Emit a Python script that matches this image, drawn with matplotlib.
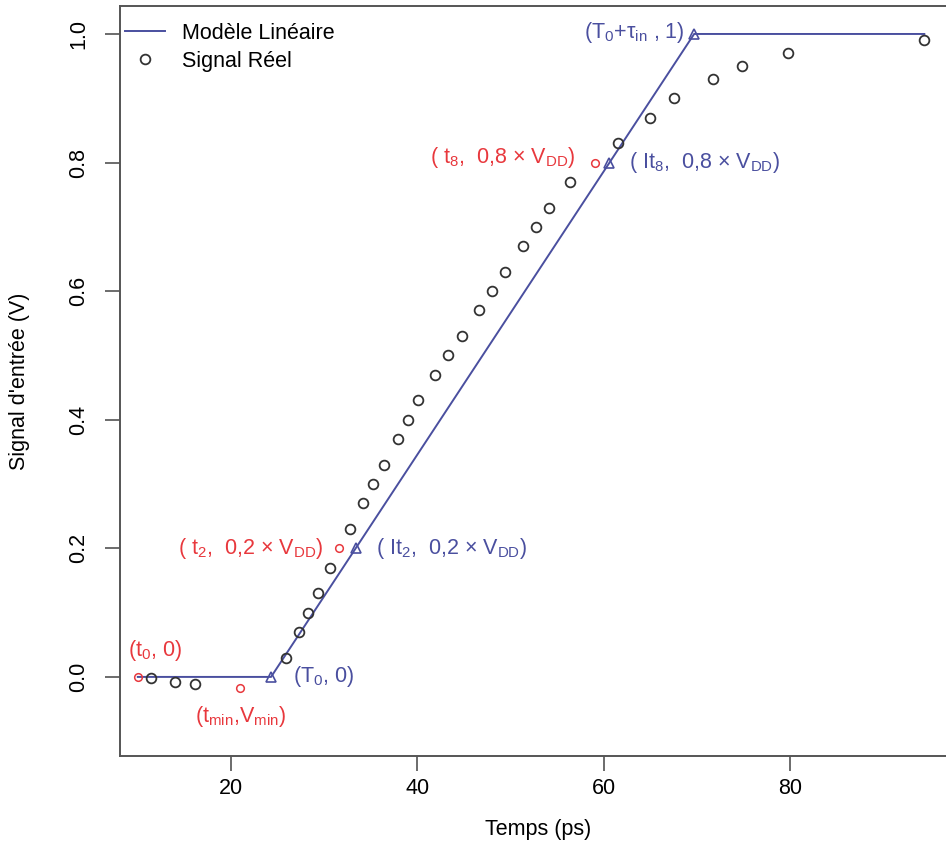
import matplotlib
matplotlib.use("Agg")
import matplotlib.pyplot as plt

plt.rcParams['font.family'] = ['Liberation Sans', 'DejaVu Sans']
plt.rcParams['mathtext.fontset'] = 'custom'
plt.rcParams['mathtext.rm'] = 'Liberation Sans'
plt.rcParams['mathtext.it'] = 'Liberation Sans'
plt.rcParams['mathtext.default'] = 'regular'

BLEU = "#4a4f9f"
ROUGE = "#e8383d"
GRIS = "#333333"

# signal reel (points noirs)
t_reel = [11.4, 14.0, 16.1, 25.9, 27.3, 28.3, 29.3, 30.6, 32.8, 34.2, 35.2, 36.4,
          37.9, 39.0, 40.1, 41.9, 43.3, 44.8, 46.6, 48.0, 49.4, 51.3, 52.7, 54.1,
          56.4, 61.5, 65.0, 67.5, 71.7, 74.8, 79.8, 94.4]
v_reel = [-0.002, -0.008, -0.011, 0.03, 0.07, 0.10, 0.13, 0.17, 0.23, 0.27, 0.30, 0.33,
          0.37, 0.40, 0.43, 0.47, 0.50, 0.53, 0.57, 0.60, 0.63, 0.67, 0.70, 0.73,
          0.77, 0.83, 0.87, 0.90, 0.93, 0.95, 0.97, 0.99]

# points caracteristiques du signal (rouge)
t_rouge = [10.0, 21.0, 31.6, 59.1]
v_rouge = [0.0, -0.017, 0.2, 0.8]
lab_rouge = ["(t$_0$, 0)", "(t$_{min}$,V$_{min}$)",
             "( t$_2$,  0,2 × V$_{DD}$)", "( t$_8$,  0,8 × V$_{DD}$)"]

# modele lineaire
t_modele = [10.0, 24.3, 69.7, 94.4]
v_modele = [0.0, 0.0, 1.0, 1.0]

# points du modele (triangles bleus)
t_bleu = [24.3, 33.4, 60.6, 69.7]
v_bleu = [0.0, 0.2, 0.8, 1.0]
lab_bleu = ["(T$_0$, 0)", "( It$_2$,  0,2 × V$_{DD}$)",
            "( It$_8$,  0,8 × V$_{DD}$)", "(T$_0$+τ$_{in}$ , 1)"]

fig = plt.figure(figsize=(9.46, 8.48), dpi=100)
ax = fig.add_axes([120/946, 1 - 756/848, 836/946, 750/848])

ax.plot(t_modele, v_modele, color=BLEU, lw=1.4, label="Modèle Linéaire")
ax.plot(t_reel, v_reel, 'o', ms=7, mfc='none', mec=GRIS, mew=1.3, label="Signal Réel")
ax.plot(t_rouge, v_rouge, 'o', ms=5.5, mfc='none', mec=ROUGE, mew=1.1)
ax.plot(t_bleu, v_bleu, '^', ms=7, mfc='none', mec=BLEU, mew=1.2)

fs = 15.5
# decalages des etiquettes en pixels (position, alignement)
off_rouge = [((17, 26), 'center'), ((0, -29), 'center'), ((-16, 0), 'right'), ((-20, 5), 'right')]
off_bleu = [((22, 0), 'left'), ((20, 0), 'left'), ((20, 0), 'left'), ((-9, 1), 'right')]
for t, v, s, (o, ha) in zip(t_rouge, v_rouge, lab_rouge, off_rouge):
    ax.annotate(s, (t, v), xytext=o, textcoords='offset pixels', ha=ha, va='center',
                color=ROUGE, fontsize=fs)
for t, v, s, (o, ha) in zip(t_bleu, v_bleu, lab_bleu, off_bleu):
    ax.annotate(s, (t, v), xytext=o, textcoords='offset pixels', ha=ha, va='center',
                color=BLEU, fontsize=fs)

ax.set_xlim(8.09, 97.8)
ax.set_ylim(-0.123, 1.0435)
ax.set_xticks([20, 40, 60, 80])
ax.set_yticks([0.0, 0.2, 0.4, 0.6, 0.8, 1.0])
ax.set_yticklabels(["0.0", "0.2", "0.4", "0.6", "0.8", "1.0"], rotation=90, va='center')
ax.tick_params(axis='both', direction='out', length=11, width=1.1, color='#444444',
               labelsize=fs)
ax.tick_params(axis='x', pad=5)
ax.tick_params(axis='y', pad=11)
for sp in ax.spines.values():
    sp.set_color('#555555')
    sp.set_linewidth(1.4)
ax.spines['right'].set_visible(False)

ax.set_xlabel("Temps (ps)", fontsize=fs, labelpad=14)
ax.set_ylabel("Signal d'entrée (V)", fontsize=fs, labelpad=28)

ax.legend(loc='upper left', bbox_to_anchor=(5/836, 1 - 17/750), frameon=False,
          fontsize=fs, borderpad=0, borderaxespad=0, handlelength=1.85,
          handletextpad=0.8, labelspacing=0.32)

plt.savefig("out.png", dpi=100)
